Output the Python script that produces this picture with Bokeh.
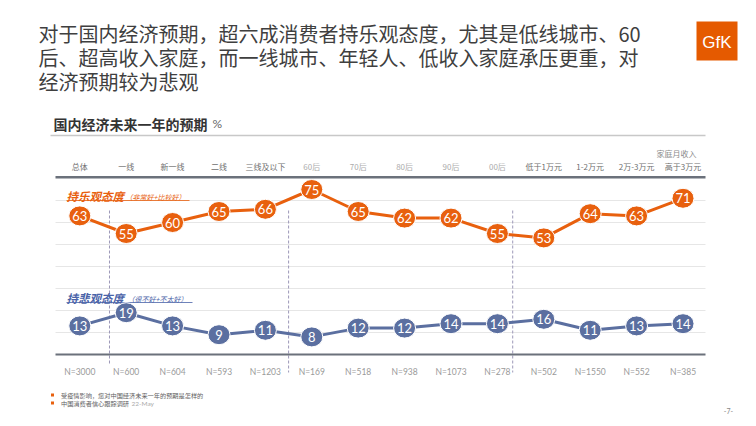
from bokeh.plotting import figure
from bokeh.models import Range1d, ColumnDataSource
from bokeh.core.properties import value
from bokeh.embed import file_html
from bokeh.resources import INLINE

# ---------------- data ----------------
categories = ["总体", "一线", "新一线", "二线", "三线及以下",
              "60后", "70后", "80后", "90后", "00后",
              "低于1万元", "1-2万元", "2万-3万元", "高于3万元"]
category_groups = ["region"] * 5 + ["age"] * 5 + ["income"] * 4
optimistic = [63, 55, 60, 65, 66, 75, 65, 62, 62, 55, 53, 64, 63, 71]
pessimistic = [13, 19, 13, 9, 11, 8, 12, 12, 14, 14, 16, 11, 13, 14]
sample_sizes = [3000, 600, 604, 593, 1203, 169, 518, 938, 1073, 278, 502, 1550, 552, 385]
grid_values = [10, 20, 30, 40, 50, 60, 70]

title_lines = ["对于国内经济预期，超六成消费者持乐观态度，尤其是低线城市、60",
               "后、超高收入家庭，而一线城市、年轻人、低收入家庭承压更重，对",
               "经济预期较为悲观"]
subtitle = "国内经济未来一年的预期"
opt_label, opt_note = "持乐观态度", "（非常好+比较好）"
pes_label, pes_note = "持悲观态度", "（很不好+不太好）"
income_header = "家庭月收入"
footnotes = ["受疫情影响，您对中国经济未来一年的预期是怎样的", "中国消费者信心跟踪调研"]
footnote_date = "22-May"

# ---------------- styles ----------------
ORANGE = "#E8600E"
BLUE = "#5B6FA0"
BLUE_TXT = "#4A63A8"
DARK_LINE = "#6B717B"
GRID = "#E6E6E6"
CJK = value("Noto Sans CJK SC")
LAT = value("Lato")
group_color = {"region": "#6F6F6F", "age": "#ABABAB", "income": "#6F6F6F"}

W, H, M = 740, 418, 0
# page-pixel ranges (decorations) + value/category ranges (data)
X0, DX = 79.3, 46.4     # page x of first category, spacing
Y0, DY = 354.0, 2.2     # page y of value 0, pixels per unit

p = figure(width=W, height=H, output_backend="svg", toolbar_location=None,
           x_range=Range1d(M, M + W), y_range=Range1d(M + H, M),
           x_axis_type=None, y_axis_type=None, min_border=0,
           outline_line_color=None, background_fill_color="white")
p.extra_x_ranges = {"cat": Range1d((M - X0) / DX, (M + W - X0) / DX)}
p.extra_y_ranges = {"val": Range1d((Y0 - (M + H)) / DY, (Y0 - M) / DY)}
p.grid.visible = False

idx = list(range(len(categories)))
src = ColumnDataSource(dict(
    i=idx, cat=categories,
    ccol=[group_color[g] for g in category_groups],
    opt=optimistic, pes=pessimistic,
    opt_s=[str(v) for v in optimistic], pes_s=[str(v) for v in pessimistic],
    n=["N=%d" % v for v in sample_sizes],
))

FL, FR = 55, 705  # frame left/right in page px

# title
for k, line in enumerate(title_lines):
    p.text(x=38, y=33 + 24 * k, text=[line], text_font=CJK, text_font_size="20px",
           text_color="#3F3F3F", text_baseline="middle", text_align="left")

# GfK logo
p.quad(left=696, right=737, top=21, bottom=60, fill_color="#E55A00", line_color=None)
p.text(x=716.5, y=42, text=["GfK"], text_font=value("Liberation Sans"), text_font_size="17px",
       text_color="white", text_align="center", text_baseline="middle")

# subtitle
p.text(x=53, y=123, text=[subtitle], text_font=CJK, text_font_size="14px", text_font_style="bold",
       text_color="#333333", text_baseline="middle")
p.text(x=212, y=123, text=["%"], text_font=LAT, text_font_size="12px",
       text_color="#666666", text_baseline="middle")
p.segment(x0=50, x1=FR, y0=135, y1=135, line_color="#C8C8C8", line_width=1.5)

# grid
p.segment(x0=[FL] * len(grid_values), x1=[FR] * len(grid_values), y0=grid_values, y1=grid_values,
          y_range_name="val", line_color=GRID, line_width=1)

# separators (dashed)
sep_x = [0.64, 4.5, 9.33]
sep_bottom = [363, 372, 372]
p.segment(x0=sep_x, x1=sep_x, y0=[210] * 3, y1=sep_bottom, x_range_name="cat",
          line_color="#9C98B8", line_width=1, line_dash="3 2")

# frame lines
p.segment(x0=FL, x1=FR, y0=176.7, y1=176.7, line_color=DARK_LINE, line_width=2.5)
p.segment(x0=FL, x1=FR, y0=0, y1=0, y_range_name="val", line_color=DARK_LINE, line_width=2)

# category labels + header
p.text(x=676, y=153, text=[income_header], text_font=CJK, text_font_size="8px",
       text_color="#8A8A8A", text_align="center", text_baseline="middle")
p.text(x="i", y=166, text="cat", source=src, x_range_name="cat", text_font=CJK,
       text_font_size="8px", text_color="ccol", text_align="center", text_baseline="middle")
# sample sizes
p.text(x="i", y=371, text="n", source=src, x_range_name="cat", text_font=LAT,
       text_font_size="8.5px", text_color="#9A9A9A", text_align="center", text_baseline="middle")

# series labels
p.text(x=66, y=195, text=[opt_label], text_font=CJK, text_font_size="11.5px",
       text_font_style="bold italic", text_color=ORANGE, text_baseline="middle")
p.text(x=125, y=196, text=[opt_note], text_font=CJK, text_font_size="7px",
       text_font_style="italic", text_color=ORANGE, text_baseline="middle")
p.segment(x0=66, x1=189, y0=200, y1=200, line_color=ORANGE, line_width=0.8)

p.text(x=66, y=297, text=[pes_label], text_font=CJK, text_font_size="11.5px",
       text_font_style="bold italic", text_color=BLUE_TXT, text_baseline="middle")
p.text(x=127, y=298, text=[pes_note], text_font=CJK, text_font_size="7px",
       text_font_style="italic", text_color=BLUE_TXT, text_baseline="middle")
p.segment(x0=66, x1=192, y0=302, y1=302, line_color=BLUE_TXT, line_width=0.8)

# series
for col, scol, color in (("opt", "opt_s", ORANGE), ("pes", "pes_s", BLUE)):
    p.line(x="i", y=col, source=src, x_range_name="cat", y_range_name="val",
           line_color=color, line_width=3)
    p.ellipse(x="i", y=col, source=src, x_range_name="cat", y_range_name="val",
              width=22, height=20, width_units="screen", height_units="screen",
              fill_color=color, line_color="white", line_width=1)
    p.text(x="i", y=col, text=scol, source=src, x_range_name="cat", y_range_name="val",
           text_font=LAT, text_font_size="13px", text_color="white",
           text_align="center", text_baseline="middle")

# footnotes
for k, note in enumerate(footnotes):
    p.quad(left=50.5, right=53.5, top=393 + 8 * k, bottom=396 + 8 * k,
           fill_color=ORANGE, line_color=None)
    p.text(x=60.5, y=394.5 + 8 * k, text=[note], text_font=CJK, text_font_size="6.2px",
           text_color="#606060", text_baseline="middle")
p.text(x=131, y=402.5, text=[footnote_date], text_font=LAT, text_font_size="6.5px",
       text_color="#AAAAAA", text_baseline="middle")

# page number
p.text(x=728, y=410, text=["-7-"], text_font=LAT, text_font_size="7px",
       text_color="#888888", text_align="center", text_baseline="middle")

open("out.html", "w").write(file_html(p, INLINE))
